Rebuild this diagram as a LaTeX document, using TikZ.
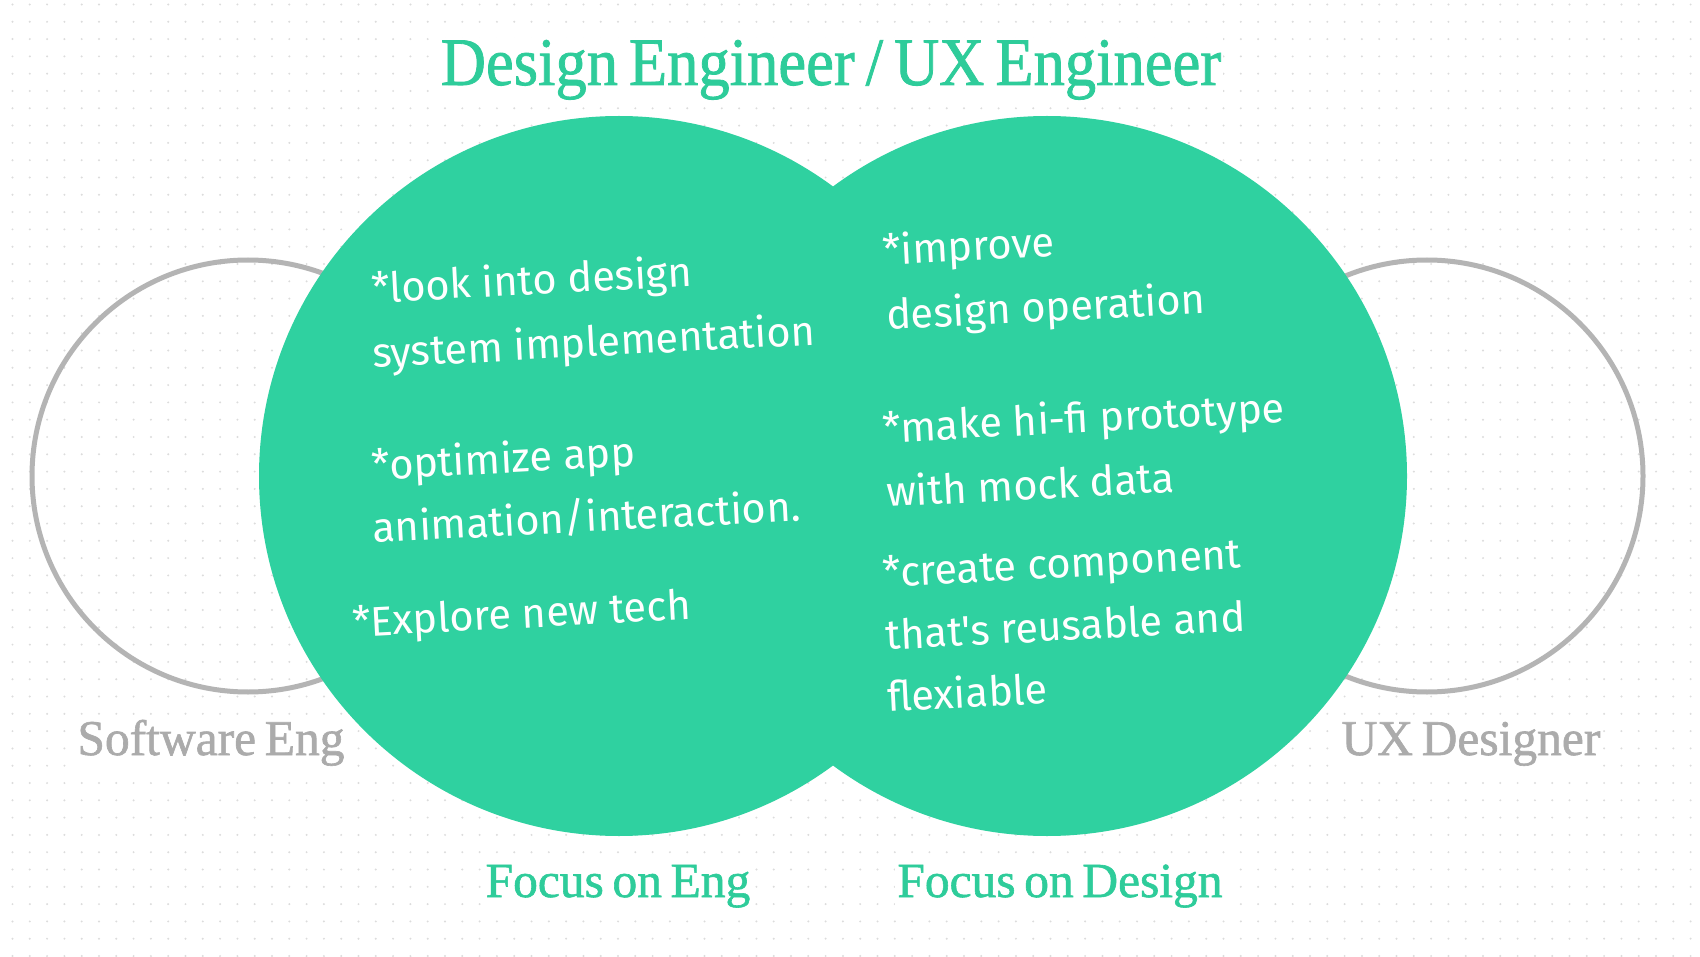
\documentclass[tikz,border=0pt]{standalone}
\usepackage{fontspec}
\setmainfont{Liberation Serif}
\newfontfamily\headfont[FakeBold=1.2, WordSpace=0.7]{Liberation Serif}
\newfontfamily\handfont{Fira Sans}
\definecolor{mint}{HTML}{2FD1A0}
\definecolor{minttext}{HTML}{2ECC9A}
\definecolor{ringgray}{HTML}{B4B4B4}
\definecolor{labelgray}{HTML}{ABABAB}
\definecolor{dotgray}{HTML}{DCDCDC}
\tikzset{
  heading/.style={font=\headfont\fontsize{68}{72}\selectfont, text=minttext, anchor=base, xscale=0.92, transform shape, fill=white, inner sep=2pt},
  focus/.style={font=\headfont\fontsize{49}{52}\selectfont, text=minttext, anchor=base, xscale=1.01, transform shape, fill=white, inner sep=2pt},
  side/.style={font=\headfont\fontsize{50}{54}\selectfont, text=labelgray, anchor=base, xscale=0.99, transform shape, fill=white, inner sep=2pt},
  note/.style={font=\handfont\fontsize{41.5}{44}\selectfont, text=white, anchor=base west, rotate=3, inner sep=0pt}
}
\begin{document}
\begin{tikzpicture}[x=1pt, y=-1pt]
\useasboundingbox (0,0) rectangle (1700,957);
\fill[white] (0,0) rectangle (1700,957);
% dotted paper
\foreach \i in {0,...,98}
  \foreach \j in {0,...,55}
    \fill[dotgray] (12.5+17.3*\i, 4.5+17.3*\j) circle (1.1);
% outer rings
\draw[ringgray, line width=5pt] (248,476) circle (216);
\draw[ringgray, line width=5pt] (1427,476) circle (216);
% the two focus circles
\fill[mint] (619,476) circle (360);
\fill[mint] (1047,476) circle (360);
\node[heading] (title) at (831,85) {Design Engineer / UX Engineer};
\node[side] (swe) at (211,755) {Software Eng};
\node[side] (uxd) at (1471,755) {UX Designer};
\node[focus] (feng) at (618,897) {Focus on Eng};
\node[focus] (fdes) at (1060,897) {Focus on Design};
% engineering notes
\node[note] (e1) at (372,303) {*look into design};
\node[note] (e2) at (373,368) {system implementation};
\node[note] (e3) at (372,480) {*optimize app};
\node[note] (e4) at (373,543) {animation/interaction.};
\node[note] (e5) at (353,637) {*Explore new tech};
% design notes
\node[note] (d1) at (883,265) {*improve};
\node[note] (d2) at (887,330) {design operation};
\node[note] (d3) at (883,443) {*make hi-fi prototype};
\node[note] (d4) at (887,507) {with mock data};
\node[note] (d5) at (883,587) {*create component};
\node[note] (d6) at (886,650) {that's reusable and};
\node[note] (d7) at (888,712) {flexiable};
\end{tikzpicture}
\end{document}
